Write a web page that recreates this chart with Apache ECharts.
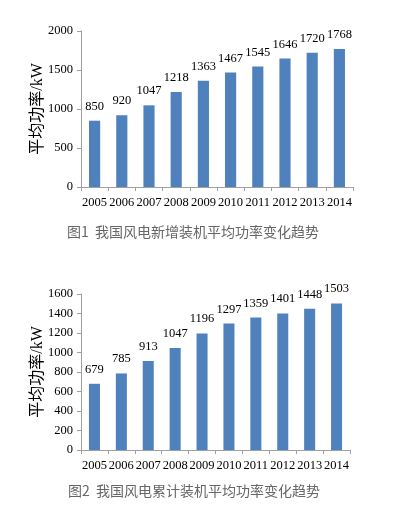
<!DOCTYPE html>
<html><head><meta charset="utf-8">
<script src="https://cdn.jsdelivr.net/npm/echarts@6/dist/echarts.min.js"></script>
<style>html,body{margin:0;padding:0;background:#fff}#c{width:399px;height:518px}</style>
</head><body><div id="c"></div>
<script>
const years = ['2005','2006','2007','2008','2009','2010','2011','2012','2013','2014'];
const newPower = [850,920,1047,1218,1363,1467,1545,1646,1720,1768];
const cumPower = [679,785,913,1047,1196,1297,1359,1401,1448,1503];
const caption1 = '图1  我国风电新增装机平均功率变化趋势';
const caption2 = '图2  我国风电累计装机平均功率变化趋势';
const yName = '平均功率/kW';

const serif = '"Liberation Serif","Times New Roman","Noto Sans CJK SC",serif';
const axisLine = {lineStyle:{color:'#a0a0a0',width:1}};
function xAx(i){return {type:'category',gridIndex:i,data:years,
  axisLine:axisLine,axisTick:{show:true,length:4,lineStyle:{color:'#a0a0a0'}},
  axisLabel:{color:'#000',fontFamily:serif,fontSize:12.5,margin:9,interval:0}};}
function yAx(i,max,step){return {type:'value',gridIndex:i,min:0,max:max,interval:step,
  name:yName,nameLocation:'middle',nameGap:35,nameRotate:90,nameMoveOverlap:false,
  nameTextStyle:{color:'#000',fontFamily:serif,fontSize:16},
  axisLine:{show:true,lineStyle:{color:'#a0a0a0'}},axisTick:{show:true,length:4,lineStyle:{color:'#a0a0a0'}},
  splitLine:{show:false},
  axisLabel:{color:'#000',fontFamily:serif,fontSize:12.5,margin:8,formatter:v=>String(v)}};}
function ser(i,data){return {type:'bar',xAxisIndex:i,yAxisIndex:i,data:data,barWidth:'41%',
  itemStyle:{color:'#4f81bd'},
  label:{show:true,position:'top',distance:8,color:'#000',fontFamily:serif,fontSize:12.5}};}
const chart = echarts.init(document.getElementById('c'));
chart.setOption({
  animation:false,
  grid:[{left:81,top:31,width:272,height:156},{left:81,top:294,width:269,height:156}],
  xAxis:[xAx(0),xAx(1)],
  yAxis:[yAx(0,2000,500),yAx(1,1600,200)],
  series:[ser(0,newPower),ser(1,cumPower)],
  graphic:[
    {type:'text',left:67,top:225,style:{text:caption1,fill:'#666',font:'14px "Noto Sans CJK SC"'}},
    {type:'text',left:68,top:484,style:{text:caption2,fill:'#666',font:'14px "Noto Sans CJK SC"'}}
  ]
});
</script></body></html>
